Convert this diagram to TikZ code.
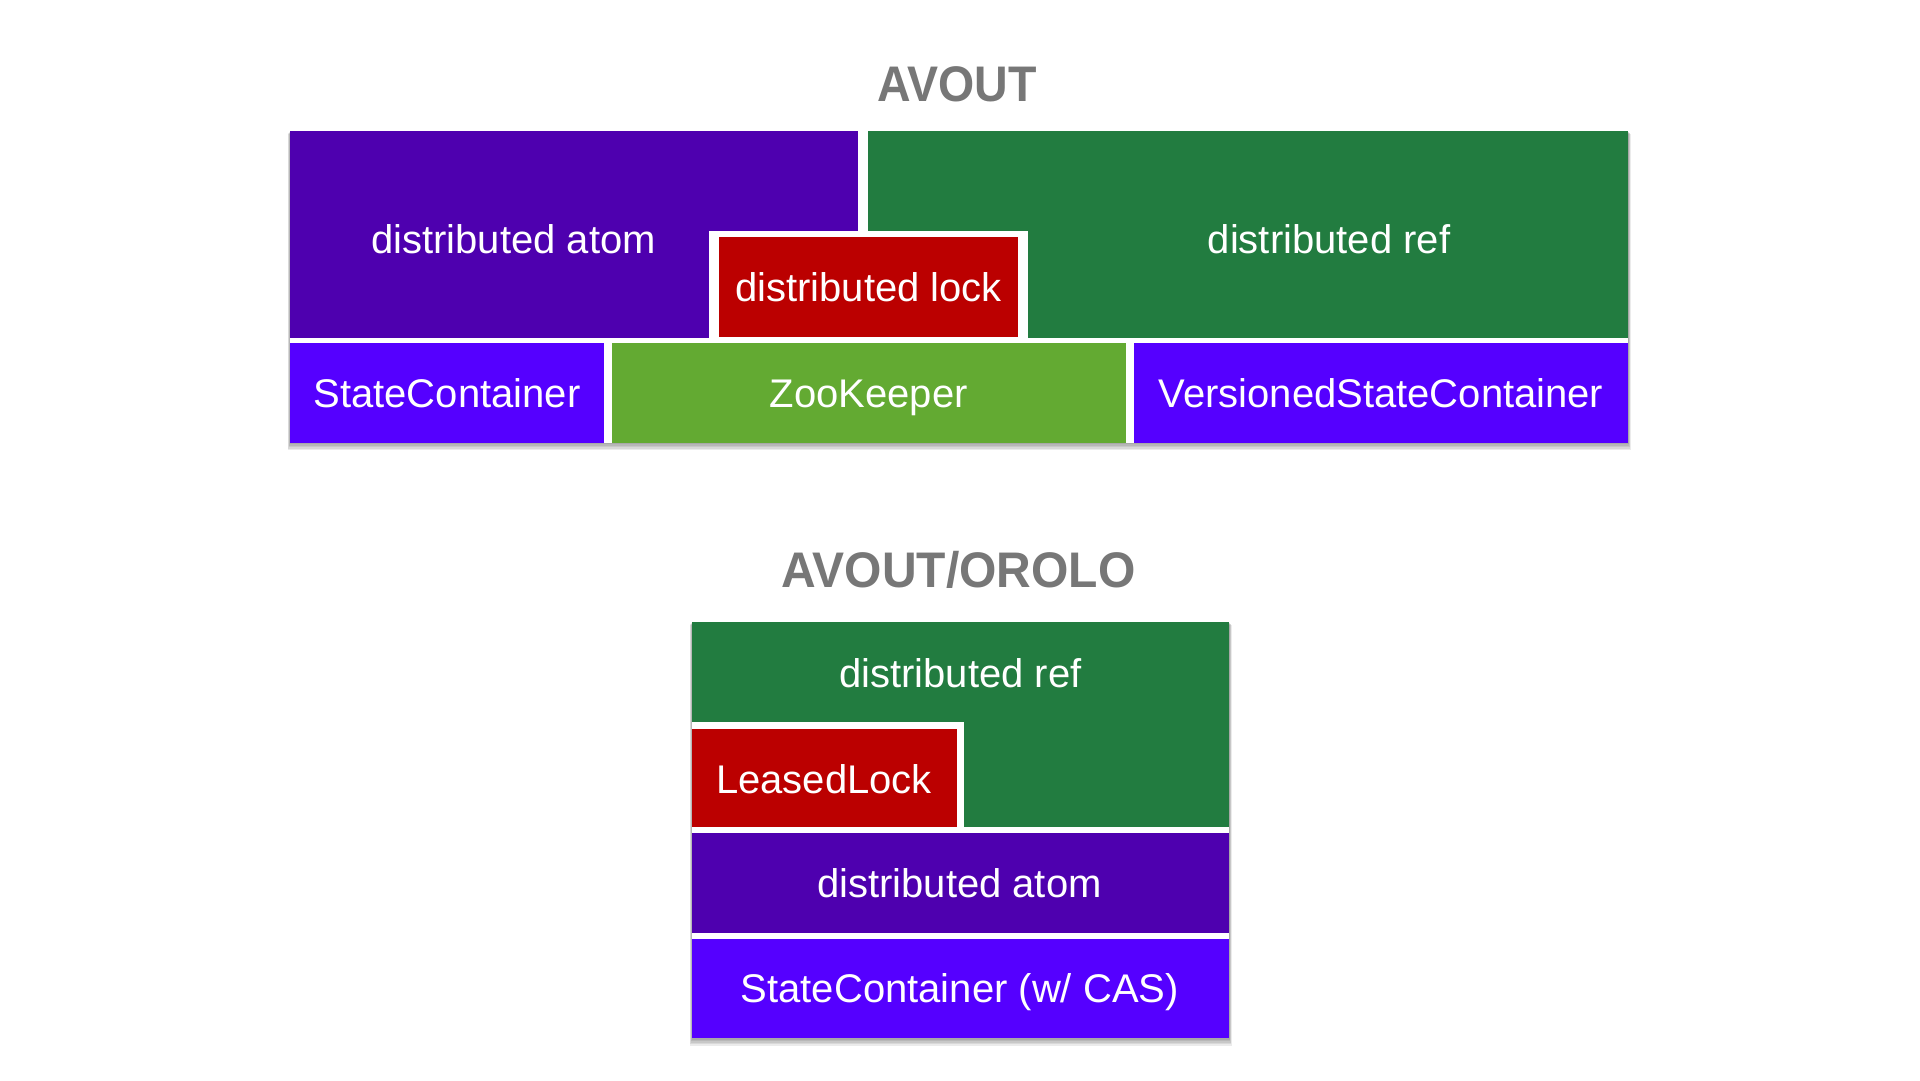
\documentclass[tikz,border=0pt]{standalone}
\usepackage{fontspec}
\setmainfont{Liberation Sans}
\usepackage{tikz}
\definecolor{AtomColor}{HTML}{4E00AF}
\definecolor{RefColor}{HTML}{227C40}
\definecolor{LockColor}{HTML}{BB0000}
\definecolor{StateColor}{HTML}{5500FF}
\definecolor{ZooColor}{HTML}{63AA32}
\definecolor{TitleGrey}{HTML}{777777}
\tikzset{
  boxlabel/.style={anchor=base,text=white,inner sep=0pt,font=\fontsize{40}{48}\selectfont},
  titlelabel/.style={anchor=base,text=TitleGrey,inner sep=0pt,font=\fontsize{50}{60}\selectfont\bfseries},
}
\newcommand{\boxshadow}[4]{%
  \foreach \s in {1,...,5}{
    \fill[black,opacity=0.08] (#1-0.5*\s,#2+0.6*\s) rectangle (#3+0.5*\s,#4+1.5*\s);
  }
  \fill[white] (#1,#2) rectangle (#3,#4);
}

\begin{document}
\begin{tikzpicture}[x=1pt,y=-1pt]
  \fill[white] (0,0) rectangle (1920,1080);
  \useasboundingbox (0,0) rectangle (1920,1080);
  % AVOUT
  \node[titlelabel] (title) at (957,101.7) {\scalebox{0.93}[1]{AVOUT}};
  \boxshadow{290}{131}{1628}{442.7}
  \fill[AtomColor] (290,131) rectangle (857.7,338);
  \fill[RefColor] (868.3,131) rectangle (1628,338);
  \fill[white] (709,231) rectangle (1028,342.7);
  \fill[LockColor] (719.3,236.7) rectangle (1018,336.7);
  \node[boxlabel] (atom) at (513.5,253.3) {distributed atom};
  \node[boxlabel] (lock) at (868.6,301.7) {distributed lock};
  \node[boxlabel] (ref) at (1329,253.3) {distributed ref};
  \foreach \xa/\xb/\col/\name/\lbl in {290/604/StateColor/state/StateContainer,612/1125.5/ZooColor/zoo/ZooKeeper,1134/1628/StateColor/vstate/VersionedStateContainer}{
    \fill[\col] (\xa,342.7) rectangle (\xb,442.7);
    \node[boxlabel] (\name) at ({(\xa+\xb)/2},407.7) {\lbl};
  }
  % AVOUT/OROLO
  \node[titlelabel] (titleorolo) at (958.5,587.8) {\scalebox{0.96}[1]{AVOUT/OROLO}};
  \boxshadow{692}{622}{1229}{1038.3}
  \fill[RefColor] (692,622) rectangle (1229,826.7);
  \fill[white] (692,722) rectangle (964,829.7);
  \fill[LockColor] (692,729) rectangle (957.3,826.7);
  \fill[AtomColor] (692,832.7) rectangle (1229,932.7);
  \fill[StateColor] (692,939) rectangle (1229,1038.3);
  \node[boxlabel] (orref) at (960.4,687) {distributed ref};
  \node[boxlabel] (lease) at (824,793.1) {LeasedLock};
  \node[boxlabel] (oratom) at (959.4,897.8) {distributed atom};
  \node[boxlabel] (orstate) at (959.8,1002) {StateContainer (w/ CAS)};
\end{tikzpicture}
\end{document}
